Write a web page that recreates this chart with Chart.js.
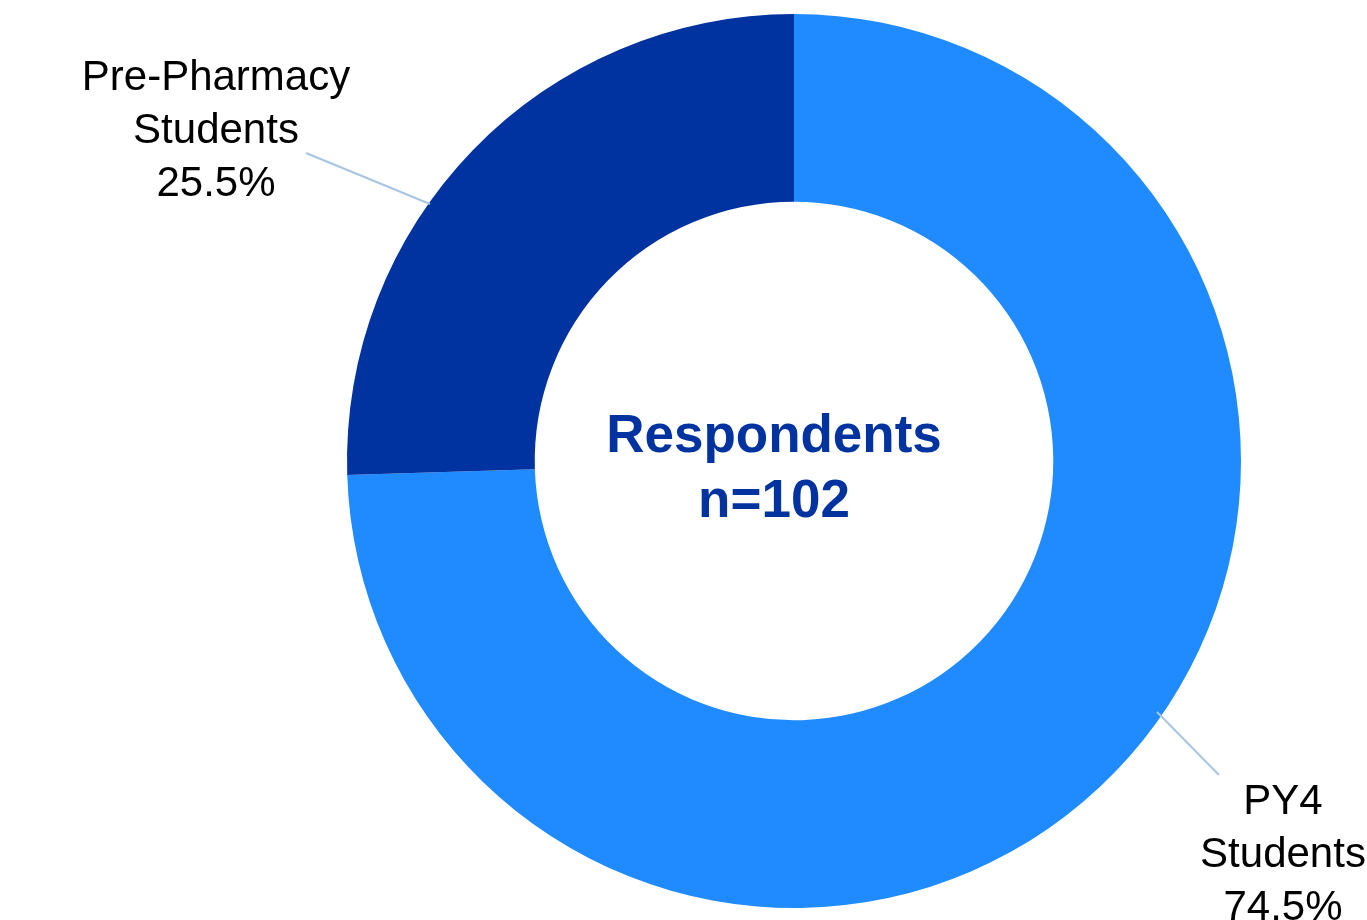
<!DOCTYPE html>
<html>
<head>
<meta charset="utf-8">
<script src="https://cdn.jsdelivr.net/npm/chart.js@4.4.1/dist/chart.umd.min.js"></script>
<style>
  html, body { margin: 0; padding: 0; background: #fff; }
  #wrap { width: 1367px; height: 920px; position: relative; }
</style>
</head>
<body>
<div id="wrap"><canvas id="donut"></canvas></div>
<script>
const categories = ["PY4 Students", "Pre-Pharmacy Students"];
const labelLines = [["PY4", "Students"], ["Pre-Pharmacy", "Students"]];
const shares = [74.5, 25.5];
const colors = ["#1f8bff", "#0033a0"];
const centerLines = ["Respondents", "n=102"];

// label placement relative to chart centre (px): line start, line end, text centre
const labelSpots = [
  { from: [363, 251], to: [425, 314], text: [489, 341] },
  { from: [-364, -257], to: [-488, -308], text: [-578, -383] }
];

const calloutPlugin = {
  id: "callouts",
  afterDraw(chart) {
    const ctx = chart.ctx;
    const arc = chart.getDatasetMeta(0).data[0];
    const cx = arc.x, cy = arc.y;
    ctx.save();
    // leader lines + labels
    labelSpots.forEach((s, i) => {
      ctx.strokeStyle = "#a8c4e6";
      ctx.lineWidth = 2;
      ctx.beginPath();
      ctx.moveTo(cx + s.from[0], cy + s.from[1]);
      ctx.lineTo(cx + s.to[0], cy + s.to[1]);
      ctx.stroke();

      ctx.fillStyle = "#000";
      ctx.font = "42px 'Liberation Sans', Arial, sans-serif";
      ctx.textAlign = "center";
      ctx.textBaseline = "middle";
      const lines = labelLines[i].concat([shares[i].toFixed(1) + "%"]);
      lines.forEach((t, j) => ctx.fillText(t, cx + s.text[0], cy + s.text[1] + j * 53));
    });
    // centre text
    ctx.fillStyle = "#0033a0";
    ctx.font = "bold 53px 'Liberation Sans', Arial, sans-serif";
    ctx.textAlign = "center";
    ctx.textBaseline = "middle";
    ctx.fillText(centerLines[0], cx - 20, cy - 24);
    ctx.fillText(centerLines[1], cx - 20, cy + 41);
    ctx.restore();
  }
};

new Chart(document.getElementById("donut"), {
  type: "doughnut",
  data: {
    labels: categories,
    datasets: [{ data: shares, backgroundColor: colors, borderWidth: 0 }]
  },
  options: {
    responsive: true,
    maintainAspectRatio: false,
    animation: false,
    cutout: "58%",
    layout: { padding: { top: 14, bottom: 12, left: 221, right: 0 } },
    plugins: {
      legend: { display: false },
      tooltip: { enabled: false }
    }
  },
  plugins: [calloutPlugin]
});
</script>
</body>
</html>
